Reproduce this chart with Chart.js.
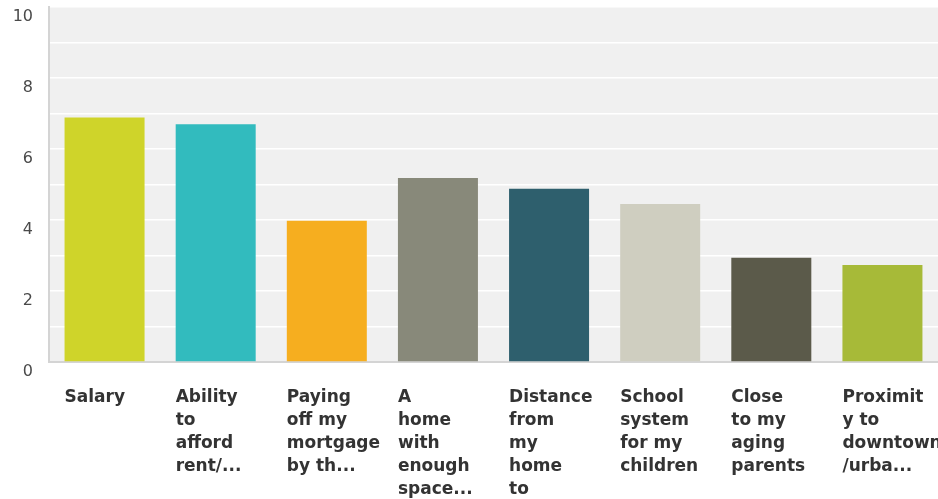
<!DOCTYPE html>
<html>
<head>
<meta charset="utf-8">
<script src="https://cdn.jsdelivr.net/npm/chart.js@4/dist/chart.umd.min.js"></script>
<style>
    html, body { margin: 0; padding: 0; background: #fff; }
    #wrap { width: 938px; height: 499px; position: relative; }
</style>
</head>
<body>
<div id="wrap"><canvas id="chart"></canvas></div>
<script>
// Categories (already wrapped / truncated as in the picture)
const categories = [
    ['Salary'],
    ['Ability', 'to', 'afford', 'rent/...'],
    ['Paying', 'off my', 'mortgage', 'by th...'],
    ['A', 'home', 'with', 'enough', 'space...'],
    ['Distance', 'from', 'my', 'home', 'to'],
    ['School', 'system', 'for my', 'children'],
    ['Close', 'to my', 'aging', 'parents'],
    ['Proximit', 'y to', 'downtown', '/urba...']
];
const values = [6.89, 6.70, 3.98, 5.18, 4.88, 4.45, 2.94, 2.73];
const barColors = ['#CFD42A', '#32BBBE', '#F6AE1F', '#88897A', '#2E5F6D', '#CFCEC0', '#5B5A4A', '#A7BA38'];
const yMax = 10;

// grey plot background
const plotBg = {
    id: 'plotBg',
    beforeDraw(chart) {
        const { ctx, chartArea: a } = chart;
        ctx.save();
        ctx.fillStyle = '#F0F0F0';
        ctx.fillRect(a.left, a.top, a.right - a.left, a.bottom - a.top);
        ctx.restore();
    }
};

new Chart(document.getElementById('chart'), {
    type: 'bar',
    data: {
        labels: categories,
        datasets: [{
            data: values,
            backgroundColor: barColors,
            borderWidth: 0,
            barPercentage: 0.72,
            categoryPercentage: 1
        }]
    },
    options: {
        responsive: true, maintainAspectRatio: false,
        animation: false,
        layout: { padding: { top: 7, right: 0, left: 0, bottom: 0 } },
        plugins: { legend: { display: false }, tooltip: { enabled: false } },
        scales: {
            x: {
                grid: { display: false, drawTicks: false },
                border: { display: true, color: '#D4D4D4', width: 2 },
                ticks: {
                    align: 'start',
                    labelOffset: -40,
                    padding: 24,
                    maxRotation: 0,
                    autoSkip: false,
                    color: '#333',
                    font: { family: 'DejaVu Sans', size: 17, weight: 'bold', lineHeight: 1.36 }
                },
                afterFit(scale) {
                    scale.height = 137;
                    scale.paddingLeft = 0;
                    scale.paddingRight = 0;
                }
            },
            y: {
                min: 0, max: yMax,
                grid: { color: '#FFFFFF', lineWidth: 1.5, drawTicks: false },
                border: { display: true, color: '#D4D4D4', width: 2 },
                ticks: {
                    stepSize: 1,
                    padding: 16,
                    labelOffset: 10,
                    color: '#4A4A4A',
                    font: { family: 'DejaVu Sans', size: 16 },
                    callback: v => (v % 2 === 0 ? v : '')
                },
                afterFit(scale) {
                    scale.width = 49;
                    scale.paddingTop = 0;
                    scale.paddingBottom = 0;
                }
            }
        }
    },
    plugins: [plotBg]
});
</script>
</body>
</html>
